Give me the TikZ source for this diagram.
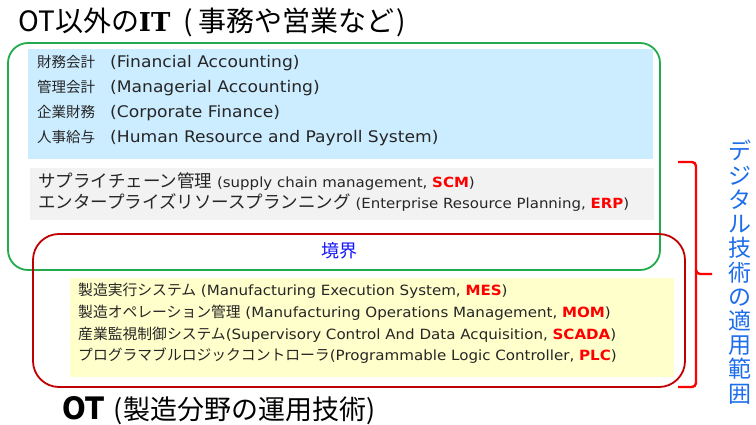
\documentclass[tikz,border=0pt]{standalone}
\usepackage{fontspec}
\setmainfont{DejaVu Sans}[FakeStretch=1.07]
\newfontfamily\jp{Noto Sans CJK JP}
\newfontfamily\serifb{DejaVu Serif}
\newfontfamily\djc{DejaVu Sans Condensed}
\newcommand\Jf[2]{{\jp\fontsize{#1}{#1}\selectfont #2}}
\definecolor{grn}{RGB}{34,170,76}
\definecolor{rbox}{RGB}{192,0,0}
\definecolor{bfill}{RGB}{204,236,255}
\definecolor{gfill}{RGB}{242,242,242}
\definecolor{yfill}{RGB}{255,255,204}
\definecolor{txt}{RGB}{38,38,38}
\definecolor{acr}{RGB}{255,0,0}
\definecolor{bnd}{RGB}{20,20,255}
\definecolor{vtxt}{RGB}{30,110,235}
\newcommand\acrn[1]{\textcolor{acr}{\bfseries #1}}
\tikzset{
  tb/.style={anchor=base west, inner sep=0pt, text=txt, font=\fontsize{16}{18}\selectfont},
  tg/.style={anchor=base west, inner sep=0pt, text=txt, font=\fontsize{14}{17}\selectfont},
  ty/.style={anchor=base west, inner sep=0pt, text=txt, font=\fontsize{14.1}{17}\selectfont},
  ttl/.style={anchor=base west, inner sep=0pt, text=black, font=\jp\fontsize{28}{30}\selectfont},
  vch/.style={anchor=base, inner sep=0pt, text=vtxt, font=\jp\fontsize{23}{23}\selectfont},
}
\newcommand\bg{\hspace{15pt}}
\begin{document}
\begin{tikzpicture}[x=1pt,y=-1pt]
\useasboundingbox (0,0) rectangle (756,425);
% fills
\fill[bfill] (28,49) rectangle (653,159);
\fill[gfill] (30,168) rectangle (654,220);
\fill[yfill] (70,278) rectangle (674,377);
% outlines
\draw[grn, line width=1.8pt, rounded corners=20pt] (8,43) rectangle (660,270);
\draw[rbox, line width=1.8pt, rounded corners=26pt] (33,234) rectangle (685,387);
% title
\node[ttl] (title) at (18,32) {OT以外の{\serifb\bfseries\fontsize{26}{30}\selectfont IT}\hspace{13pt}(\hspace{6pt}事務や営業など\hspace{2pt})};
% blue box
\node[tb] (b1) at (37,68) {\Jf{14.5}{財務会計}\bg(Financial Accounting)};
\node[tb] (b2) at (37,93) {\Jf{14.5}{管理会計}\bg(Managerial Accounting)};
\node[tb] (b3) at (37,118) {\Jf{14.5}{企業財務}\bg(Corporate Finance)};
\node[tb] (b4) at (37,143) {\Jf{14.5}{人事給与}\bg(Human Resource and Payroll System)};
% gray box
\node[tg] (g1) at (38,188) {\Jf{17.5}{サプライチェーン管理} (supply chain management, \acrn{SCM})};
\node[tg] (g2) at (38,209) {\Jf{17.5}{エンタープライズリソースプランニング} (Enterprise Resource Planning, \acrn{ERP})};
% boundary
\node[anchor=base, inner sep=0pt, text=bnd, font=\jp\fontsize{18}{18}\selectfont] (bd) at (339,258) {境界};
% yellow box
\node[ty] (y1) at (78,295) {\Jf{14.8}{製造実行システム} (Manufacturing Execution System, \acrn{MES})};
\node[ty] (y2) at (78,317) {\Jf{14.8}{製造オペレーション管理} (Manufacturing Operations Management, \acrn{MOM})};
\node[ty] (y3) at (78,339) {\Jf{14.8}{産業監視制御システム}(Supervisory Control And Data Acquisition, \acrn{SCADA})};
\node[ty] (y4) at (78,360) {\Jf{14.8}{プログラマブルロジックコントローラ}(Programmable Logic Controller, \acrn{PLC})};
% bottom title
\node[anchor=base west, inner sep=0pt, text=black] (ot) at (62,419)
 {{\djc\bfseries\fontsize{31}{32}\selectfont OT}\hspace{9pt}\Jf{27}{(製造分野の運用技術)}};
% brace
\coordinate (bt) at (678,162);
\coordinate (bb) at (678,387);
\coordinate (tip) at (712,274);
\draw[acr, line width=2.4pt, rounded corners=4pt] (bt) -- (696,162) -- (696,274) -- (tip);
\draw[acr, line width=2.4pt, rounded corners=4pt] (696,270) -- (696,387) -- (bb);
% vertical text
\foreach \c [count=\i] in {デ,ジ,タ,ル,技,術,の,適,用,範,囲}
  \node[vch] (v\i) at (740,{160+24.2*(\i-1)}) {\c};
\end{tikzpicture}
\end{document}
